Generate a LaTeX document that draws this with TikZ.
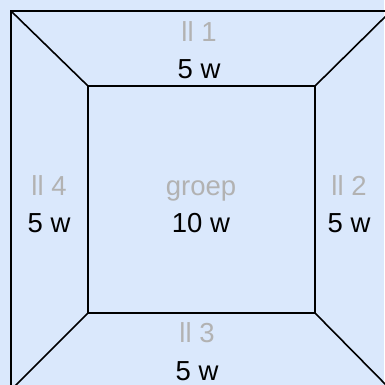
\documentclass[tikz,border=0pt]{standalone}
\usepackage{fontspec}
\setmainfont{Liberation Sans}
\definecolor{bgblue}{HTML}{DAE8FC}
\definecolor{lblgray}{RGB}{178,178,178}
\begin{document}
\begin{tikzpicture}[x=1pt,y=-1pt,
  edge/.style={draw=black,line width=1.6pt,line join=miter},
  lbl/.style={font=\fontsize{27.5}{33}\selectfont,text=lblgray,anchor=base,inner sep=0pt},
  val/.style={font=\fontsize{27.5}{33}\selectfont,text=black,anchor=base,inner sep=0pt}]
\fill[bgblue] (0,0) rectangle (384,385);
\useasboundingbox (0,0) rectangle (384,385);
\coordinate (o1) at (11,11);
\coordinate (o2) at (391,11);
\coordinate (o3) at (391,390);
\coordinate (o4) at (11,390);
\coordinate (i1) at (88,86);
\coordinate (i2) at (315,86);
\coordinate (i3) at (315,313);
\coordinate (i4) at (88,313);
\draw[edge] (o1) -- (o2) -- (o3) -- (o4) -- cycle;
\draw[edge] (i1) -- (i2) -- (i3) -- (i4) -- cycle;
\draw[edge] (o1) -- (i1);
\draw[edge] (o2) -- (i2);
\draw[edge] (o3) -- (i3);
\draw[edge] (o4) -- (i4);
\node[lbl] (l1) at (199,42) {ll 1};
\node[val] (v1) at (199,79) {5 w};
\node[lbl] (l4) at (49,195) {ll 4};
\node[val] (v4) at (49,232) {5 w};
\node[lbl] (lg) at (201,195) {groep};
\node[val] (vg) at (201,232) {10 w};
\node[lbl] (l2) at (349,195) {ll 2};
\node[val] (v2) at (349,232) {5 w};
\node[lbl] (l3) at (197,342) {ll 3};
\node[val] (v3) at (197,380) {5 w};
\end{tikzpicture}
\end{document}
